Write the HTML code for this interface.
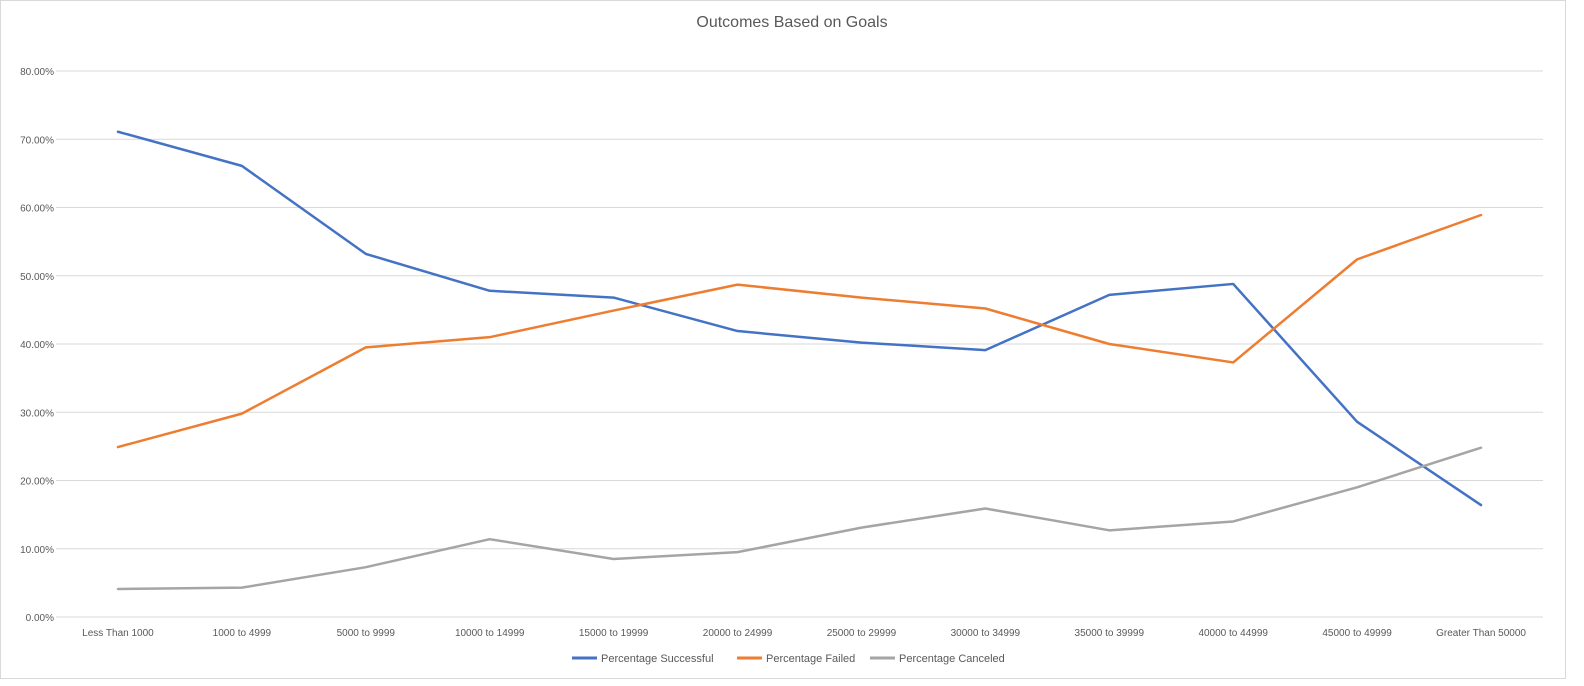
<!DOCTYPE html>
<html><head><meta charset="utf-8"><style>
body{margin:0;background:#fff;}
svg{display:block;font-family:"Liberation Sans",sans-serif;}
</style></head><body>
<svg id="chart" width="1584" height="686">
<rect x="0.5" y="0.5" width="1565" height="678" fill="#fff" stroke="#d9d9d9"/>
<text x="792" y="27" text-anchor="middle" font-size="16" fill="#595959">Outcomes Based on Goals</text>
<g id="grid"></g><g id="xlab"></g><g id="series"></g>
<g>
<g><line x1="572" y1="658" x2="597" y2="658" stroke="#4472c4" stroke-width="3"/><text x="601" y="662" font-size="11" fill="#595959">Percentage Successful</text></g>
<g><line x1="737" y1="658" x2="762" y2="658" stroke="#ed7d31" stroke-width="3"/><text x="766" y="662" font-size="11" fill="#595959">Percentage Failed</text></g>
<g><line x1="870" y1="658" x2="895" y2="658" stroke="#a5a5a5" stroke-width="3"/><text x="899" y="662" font-size="11" fill="#595959">Percentage Canceled</text></g>
</g>
</svg>
<script>
const categories=["Less Than 1000","1000 to 4999","5000 to 9999","10000 to 14999","15000 to 19999","20000 to 24999","25000 to 29999","30000 to 34999","35000 to 39999","40000 to 44999","45000 to 49999","Greater Than 50000"];
const successful=[71.1,66.1,53.2,47.8,46.8,41.9,40.2,39.1,47.2,48.8,28.6,16.4];
const failed=[24.9,29.8,39.5,41.0,44.9,48.7,46.8,45.2,40.0,37.3,52.4,58.9];
const canceled=[4.1,4.3,7.3,11.4,8.5,9.5,13.1,15.9,12.7,14.0,19.0,24.8];
const yTicks=[0,10,20,30,40,50,60,70,80];
const NS="http://www.w3.org/2000/svg";
const x0=56,x1=1543,y0=617,y1=71;
const xs=i=>x0+(i+0.5)*(x1-x0)/categories.length;
const ys=v=>y0-(v/80)*(y0-y1);
function mk(t,a,p){const e=document.createElementNS(NS,t);for(const k in a)e.setAttribute(k,a[k]);p.appendChild(e);return e;}
const grid=document.getElementById('grid');
yTicks.forEach(v=>{
 const l=mk('line',{x1:x0,x2:x1,y1:ys(v),y2:ys(v),stroke:'#d9d9d9','stroke-width':1},grid);
 
 
 const t=mk('text',{x:x0-2,y:ys(v)+4,'text-anchor':'end','font-size':10,fill:'#595959'},grid);
 t.textContent=v.toFixed(2)+'%';
 
 
});
const xl=document.getElementById('xlab');
categories.forEach((c,i)=>{
 const t=mk('text',{x:xs(i),y:636,'text-anchor':'middle','font-size':10,fill:'#595959'},xl);
 t.textContent=c;
 
 
});
const sg=document.getElementById('series');
[[successful,'#4472c4','line-successful'],[failed,'#ed7d31','line-failed'],[canceled,'#a5a5a5','line-canceled']].forEach(([d,c,n])=>{
 const p=mk('polyline',{points:d.map((v,i)=>xs(i)+','+ys(v)).join(' '),fill:'none',stroke:c,'stroke-width':2.5,'stroke-linejoin':'round','stroke-linecap':'round'},sg);
 
 
});
</script>
</body></html>
